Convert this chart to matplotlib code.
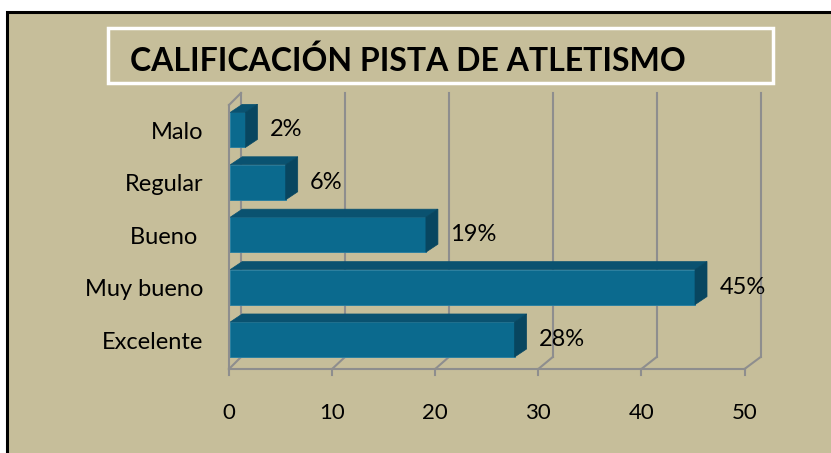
import numpy as np
import matplotlib
matplotlib.use("Agg")
import matplotlib.pyplot as plt
from matplotlib.patches import Polygon, Rectangle

# datos (de abajo hacia arriba)
categorias = ["Excelente", "Muy bueno", "Bueno ", "Regular", "Malo"]
valores = [27.7, 45.2, 19.1, 5.5, 1.6]
etiquetas = ["28%", "45%", "19%", "6%", "2%"]
ticks_x = [0, 10, 20, 30, 40, 50]
titulo = "CALIFICACIÓN PISTA DE ATLETISMO"

fondo = "#C6BE9A"
c_frente = "#0B6A8E"
c_arriba = "#0A5270"
c_lado = "#084660"
c_grid = "#8E8E8E"

plt.rcParams['font.family'] = ['Lato', 'DejaVu Sans']

fig = plt.figure(figsize=(8.31, 4.53), dpi=100, facecolor="white")

# marco negro y fondo
fig.patches.append(Rectangle((7/831, -0.1), 1.2, (453-12)/453 + 0.1,
                             transform=fig.transFigure, facecolor=fondo,
                             edgecolor="black", linewidth=2.2, zorder=-10))
# caja del titulo
fig.patches.append(Rectangle((108/831, (453-83)/453), (773-108)/831, 55/453,
                             transform=fig.transFigure, facecolor="none",
                             edgecolor="white", linewidth=2.5, zorder=-5))
fig.text(130/831, (453-61)/453, titulo, fontsize=23, fontweight="bold",
         ha="left", va="center", color="black")

ax = fig.add_axes([229/831, (453-369)/453, 515.5/831, 264/453])
ax.set_xlim(0, 50)
y_pie, y_tope = -0.563, 4.475
ax.set_ylim(y_pie, y_tope)
ax.axis("off")

# profundidad de las paredes y barras (en unidades de datos)
dx_pared, dy_pared = 1.164, 0.229
dx_barra, dy_barra = 1.164, 0.153
esc_fondo = 1.008
alto = 0.668

def bx(v):
    return v * esc_fondo + dx_pared

# pared izquierda
ax.plot([0, 0], [y_pie, y_tope], color=c_grid, lw=1.5, clip_on=False, zorder=1)
ax.plot([0, bx(0)], [y_tope, y_tope + dy_pared], color=c_grid, lw=1.5, clip_on=False, zorder=1)
# piso
ax.plot([0, 50], [y_pie, y_pie], color=c_grid, lw=1.5, clip_on=False, zorder=1)
for v in ticks_x:
    ax.plot([bx(v), bx(v)], [y_pie + dy_pared, y_tope + dy_pared], color=c_grid,
            lw=1.5, clip_on=False, zorder=1)
    ax.plot([v, bx(v)], [y_pie, y_pie + dy_pared], color=c_grid, lw=1.5,
            clip_on=False, zorder=1)
    ax.plot([v, v], [y_pie, y_pie - 0.115], color=c_grid, lw=1.5, clip_on=False, zorder=1)
    ax.text(v, y_pie - 0.84, str(v), ha="center", va="center", fontsize=16)

# barras 3D
x0 = 0.12
for i, (cat, v, et) in enumerate(zip(categorias, valores, etiquetas)):
    yb, yt = i - alto / 2, i + alto / 2
    ax.barh(i, v - x0, left=x0, height=alto, color=c_frente, edgecolor="#2C80A0",
            linewidth=0.7, zorder=3)
    ax.add_patch(Polygon([(x0, yt), (x0 + dx_barra, yt + dy_barra),
                          (v + dx_barra, yt + dy_barra), (v, yt)],
                         closed=True, facecolor=c_arriba, edgecolor=c_arriba,
                         linewidth=0.5, zorder=3, clip_on=False))
    ax.add_patch(Polygon([(v, yb), (v, yt), (v + dx_barra, yt + dy_barra),
                          (v + dx_barra, yb + dy_barra)],
                         closed=True, facecolor=c_lado, edgecolor=c_lado,
                         linewidth=0.5, zorder=3, clip_on=False))
    ax.text(v + dx_barra + 1.2, i + 0.0, et, ha="left", va="center", fontsize=17)
    ax.text(-2.5, i - 0.05, cat, ha="right", va="center", fontsize=17)

fig.savefig("out.png", dpi=100, facecolor="white")
